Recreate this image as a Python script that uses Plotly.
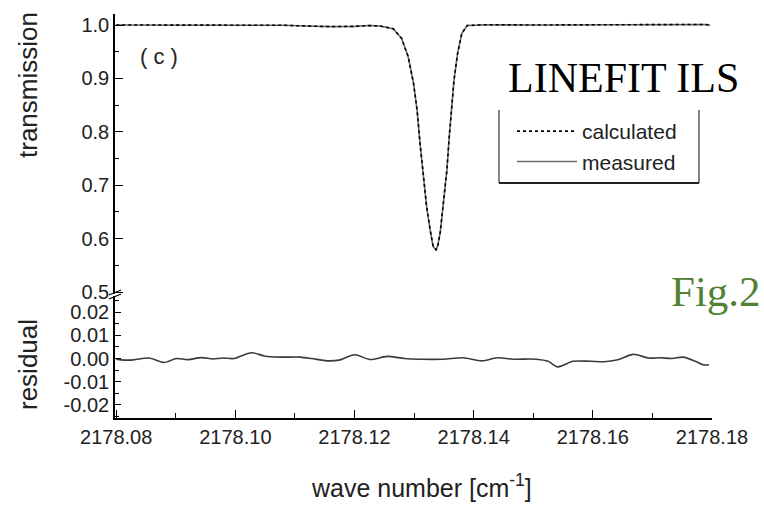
import plotly.graph_objects as go

# ---------------- data ----------------
wn_trans = [2178.0800, 2178.0900, 2178.1000, 2178.1080, 2178.1120, 2178.1160,
            2178.1200, 2178.1225, 2178.1243, 2178.1255, 2178.1265, 2178.1279,
            2178.1290, 2178.1299, 2178.1305, 2178.1310, 2178.1316, 2178.1321,
            2178.1327, 2178.1332, 2178.1337, 2178.1340, 2178.1344, 2178.1349,
            2178.1355, 2178.1359, 2178.1363, 2178.1367, 2178.1373, 2178.1380,
            2178.1389, 2178.1420, 2178.1500, 2178.1600, 2178.1700, 2178.1790,
            2178.1797]
t_measured = [1.000, 1.000, 1.000, 0.9995, 0.998, 0.997,
              0.9975, 0.999, 0.998, 0.996, 0.993, 0.975,
              0.941, 0.891, 0.841, 0.778, 0.716, 0.660,
              0.616, 0.585, 0.579, 0.588, 0.613, 0.666,
              0.728, 0.791, 0.847, 0.897, 0.947, 0.984,
              0.999, 1.0005, 1.000, 1.0005, 1.001, 1.001,
              0.9995]
t_calculated = [1.000, 1.000, 1.000, 0.9995, 0.998, 0.997,
                0.9975, 0.999, 0.998, 0.996, 0.993, 0.975,
                0.941, 0.891, 0.841, 0.778, 0.716, 0.660,
                0.616, 0.585, 0.579, 0.588, 0.613, 0.666,
                0.728, 0.791, 0.847, 0.897, 0.947, 0.984,
                0.999, 1.0005, 1.000, 1.0005, 1.001, 1.001,
                0.9995]

wn_resid = [2178.0800, 2178.0809, 2178.0829, 2178.0855, 2178.0881, 2178.0901,
            2178.0920, 2178.0943, 2178.0962, 2178.0979, 2178.0998, 2178.1027,
            2178.1050, 2178.1076, 2178.1109, 2178.1128, 2178.1154, 2178.1174,
            2178.1200, 2178.1226, 2178.1255, 2178.1284, 2178.1310, 2178.1349,
            2178.1382, 2178.1414, 2178.1440, 2178.1466, 2178.1505, 2178.1525,
            2178.1541, 2178.1567, 2178.1596, 2178.1619, 2178.1642, 2178.1668,
            2178.1694, 2178.1713, 2178.1733, 2178.1752, 2178.1772, 2178.1785,
            2178.1795]
residual = [-0.0003, -0.0006, -0.0006, 0.0002, -0.0017, 0.0000,
            -0.0005, 0.0004, -0.0002, 0.0002, 0.0000, 0.0025,
            0.0010, 0.0006, 0.0006, 0.0000, -0.0010, -0.0007,
            0.0016, -0.0004, 0.0009, 0.0000, -0.0003, -0.0003,
            0.0003, -0.0010, 0.0003, -0.0003, -0.0003, -0.0012,
            -0.0036, -0.0012, -0.0012, -0.0014, -0.0005, 0.0018,
            0.0002, 0.0003, 0.0000, 0.0006, -0.0012, -0.0027,
            -0.0027]

x_ticks = [2178.08, 2178.10, 2178.12, 2178.14, 2178.16, 2178.18]
x_ticklabels = ["2178.08", "2178.10", "2178.12", "2178.14", "2178.16", "2178.18"]
t_ticks = [0.5, 0.6, 0.7, 0.8, 0.9, 1.0]
t_ticklabels = ["0.5", "0.6", "0.7", "0.8", "0.9", "1.0"]
r_ticks = [-0.02, -0.01, 0.0, 0.01, 0.02]
r_ticklabels = ["-0.02", "-0.01", "0.00", "0.01", "0.02"]

# ---------------- figure ----------------
W, H = 764, 505
L, R, T, B = 115, 52, 14, 87
PW, PH = W - L - R, H - T - B


def px(x):
    return (x - L) / PW


def py(y):
    return (H - B - y) / PH


FONT = "Liberation Sans, Arial, sans-serif"
TXT = "#222222"

fig = go.Figure()
fig.add_trace(go.Scatter(x=wn_trans, y=t_measured, mode="lines", name="measured",
                         line=dict(color="#6a6a6a", width=1.6), xaxis="x", yaxis="y2",
                         legendrank=2))
fig.add_trace(go.Scatter(x=wn_trans, y=t_calculated, mode="lines", name="calculated",
                         line=dict(color="black", width=1.6, dash="dot"), xaxis="x", yaxis="y2",
                         legendrank=1))
fig.add_trace(go.Scatter(x=wn_resid, y=residual, mode="lines", name="residual",
                         line=dict(color="#3a3a3a", width=1.6, shape="spline", smoothing=0.8),
                         xaxis="x", yaxis="y", showlegend=False))

axis_common = dict(showgrid=False, zeroline=False, showline=True, linecolor="black",
                   linewidth=1.6, ticks="inside", tickcolor="black", tickwidth=1.3,
                   tickfont=dict(family=FONT, size=20, color=TXT))

fig.update_layout(
    width=W, height=H, margin=dict(l=L, r=R, t=T, b=B),
    paper_bgcolor="white", plot_bgcolor="white",
    xaxis=dict(axis_common, range=[2178.0798, 2178.18], tickvals=x_ticks, ticktext=x_ticklabels,
               ticklen=8, minor=dict(dtick=0.01, ticks="inside", ticklen=5, tickcolor="black"),
               anchor="y", domain=[0, 1]),
    yaxis=dict(axis_common, range=[-0.0256, 0.0269], tickvals=r_ticks, ticktext=r_ticklabels,
               ticklen=6, minor=dict(dtick=0.005, ticks="inside", ticklen=4, tickcolor="black"),
               domain=[0, (H - B - 296) / PH], anchor="x"),
    yaxis2=dict(axis_common, range=[0.4963, 1.0206], tickvals=t_ticks, ticktext=t_ticklabels,
                ticklen=8, minor=dict(dtick=0.05, ticks="inside", ticklen=4, tickcolor="black"),
                domain=[(H - B - 294) / PH, 1], anchor="x"),
    showlegend=True,
    legend=dict(x=px(512), y=py(111), xanchor="left", yanchor="top",
                bgcolor="rgba(0,0,0,0)", borderwidth=0,
                font=dict(family=FONT, size=21, color=TXT), itemwidth=60,
                tracegroupgap=0),
)

shapes = [
    # legend box (left, right, bottom edges)
    dict(type="line", xref="paper", yref="paper", x0=px(499), x1=px(499), y0=py(110), y1=py(183),
         line=dict(color="#333", width=1.2)),
    dict(type="line", xref="paper", yref="paper", x0=px(699), x1=px(699), y0=py(110), y1=py(183),
         line=dict(color="#333", width=1.2)),
    dict(type="line", xref="paper", yref="paper", x0=px(499), x1=px(699), y0=py(183), y1=py(183),
         line=dict(color="#222", width=2)),
    # axis break marks
    dict(type="line", xref="paper", yref="paper", x0=px(109), x1=px(121), y0=py(295), y1=py(290),
         line=dict(color="black", width=1.3)),
    dict(type="line", xref="paper", yref="paper", x0=px(109), x1=px(121), y0=py(299), y1=py(294),
         line=dict(color="black", width=1.3)),
]
fig.update_layout(shapes=shapes)

annotations = [
    dict(text="LINEFIT ILS", x=px(506), y=py(78), xanchor="left", yanchor="middle",
         font=dict(family="Liberation Serif, Times New Roman, serif", size=42, color="black")),
    dict(text="Fig.2", x=px(669), y=py(291), xanchor="left", yanchor="middle",
         font=dict(family="Liberation Serif, Times New Roman, serif", size=43, color="#538135")),
    dict(text="( c )", x=px(138), y=py(57), xanchor="left", yanchor="middle",
         font=dict(family=FONT, size=22, color=TXT)),
    dict(text="transmission", x=px(28), y=py(85), xanchor="center", yanchor="middle",
         textangle=-90, font=dict(family=FONT, size=26, color=TXT)),
    dict(text="residual", x=px(28), y=py(365), xanchor="center", yanchor="middle",
         textangle=-90, font=dict(family=FONT, size=26, color=TXT)),
    dict(text="wave number [cm<sup>-1</sup>]", x=px(421), y=py(486), xanchor="center",
         yanchor="middle", font=dict(family=FONT, size=25, color=TXT)),
]
for a in annotations:
    a.update(xref="paper", yref="paper", showarrow=False)
fig.update_layout(annotations=annotations)

fig.write_html("out.html")
